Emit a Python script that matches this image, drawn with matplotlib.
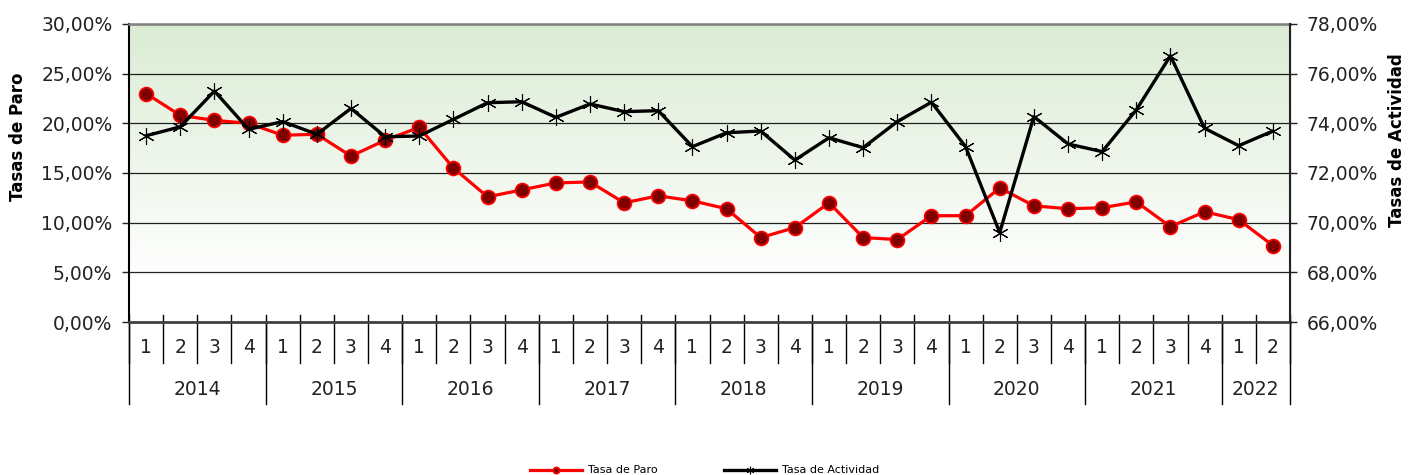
import numpy as np
import matplotlib.pyplot as plt
import matplotlib.transforms as mtransforms
from matplotlib.colors import LinearSegmentedColormap
from matplotlib.ticker import FuncFormatter

# datos (2014T1 - 2022T2)
years = ["2014", "2015", "2016", "2017", "2018", "2019", "2020", "2021", "2022"]
quarters_per_year = [4, 4, 4, 4, 4, 4, 4, 4, 2]
quarter_labels = ["1", "2", "3", "4"]

tasa_paro = [23.0, 20.8, 20.3, 20.0, 18.8, 18.9, 16.7, 18.3,
             19.6, 15.5, 12.6, 13.3, 14.0, 14.1, 12.0, 12.7,
             12.2, 11.4, 8.5, 9.5, 12.0, 8.5, 8.3, 10.7,
             10.7, 13.5, 11.7, 11.4, 11.5, 12.1, 9.6, 11.1,
             10.3, 7.7]
tasa_actividad = [73.5, 73.86, 75.3, 73.76, 74.07, 73.56, 74.6, 73.46,
                  73.49, 74.16, 74.83, 74.87, 74.24, 74.78, 74.47, 74.51,
                  73.06, 73.62, 73.69, 72.52, 73.42, 73.02, 74.07, 74.85,
                  73.06, 69.6, 74.27, 73.17, 72.86, 74.54, 76.72, 73.8,
                  73.1, 73.69]


def pct(v, pos):
    return ("%.2f%%" % v).replace(".", ",")


plt.rcParams["font.family"] = ["DejaVu Sans"]

fig = plt.figure(figsize=(14.09, 4.75), dpi=100)
ax = fig.add_axes([0.0916, 0.3221, 0.8239, 0.6274])
ax2 = ax.twinx()

n = len(tasa_paro)
x = np.arange(n)

# fondo degradado verde -> blanco
cmap = LinearSegmentedColormap.from_list(
    "fondo", [(0, "#ffffff"), (0.15, "#ffffff"), (1, "#dbecd4")])
grad = np.linspace(1, 0, 256).reshape(-1, 1)
ax.imshow(grad, cmap=cmap, extent=[0, 1, 0, 1], transform=ax.transAxes,
          aspect="auto", zorder=0, vmin=0, vmax=1, origin="upper")

ax.plot(x, tasa_paro, color="red", lw=2.3, marker="o", ms=10,
        mfc="#800000", mec="red", mew=1.2, label="Tasa de Paro", zorder=3)
ax2.plot(x, tasa_actividad, color="black", lw=2.4, marker=(6, 2, 0), ms=12,
         mew=0.8, label="Tasa de Actividad", zorder=3)

ax.set_xlim(-0.5, n - 0.5)
ax.set_ylim(0, 30)
ax2.set_ylim(66, 78)
ax.set_yticks(np.arange(0, 30.1, 5))
ax2.set_yticks(np.arange(66, 78.1, 2))
ax.yaxis.set_major_formatter(FuncFormatter(pct))
ax2.yaxis.set_major_formatter(FuncFormatter(pct))
ax.set_xticks([])

ax.grid(axis="y", color="#202020", lw=0.9, zorder=1)
ax.set_axisbelow(True)
ax.tick_params(axis="y", labelsize=13.5, length=5, width=1, colors="#222222", pad=7)
ax2.tick_params(axis="y", labelsize=13.5, length=5, width=1, colors="#222222", pad=7)

ax.spines["top"].set_color("#808080")
ax.spines["top"].set_linewidth(1.8)
ax2.spines["top"].set_visible(False)
ax.spines["bottom"].set_color("#404040")
ax.spines["bottom"].set_linewidth(2)
ax2.spines["bottom"].set_visible(False)
ax.spines["left"].set_linewidth(1.5)
ax2.spines["left"].set_visible(False)
ax2.spines["right"].set_linewidth(1.5)
ax2.spines["right"].set_color("#222222")

ax.set_ylabel("Tasas de Paro", fontsize=12, fontweight="bold")
ax2.set_ylabel("Tasas de Actividad", fontsize=12, fontweight="bold")
ax.yaxis.set_label_coords(-0.0875, 0.62)
ax2.yaxis.set_label_coords(1.0845, 0.61)

# eje de categorias en dos niveles
trans = mtransforms.blended_transform_factory(ax.transData, ax.transAxes)
row1 = -0.138
row2 = -0.275
line_kw = dict(color="black", lw=1, transform=trans, clip_on=False)
for i in range(n + 1):
    xb = i - 0.5
    ax.plot([xb, xb], [0.023, row1], **line_kw)

start = 0
for yr, nq in zip(years, quarters_per_year):
    for q in range(nq):
        ax.text(start + q, -0.087, quarter_labels[q], transform=trans,
                ha="center", va="center", fontsize=13.5, color="#222222")
    ax.text(start + (nq - 1) / 2, -0.225, yr, transform=trans,
            ha="center", va="center", fontsize=13.5, color="#222222")
    ax.plot([start - 0.5, start - 0.5], [0, row2], **line_kw)
    start += nq
ax.plot([start - 0.5, start - 0.5], [0, row2], **line_kw)

h1, l1 = ax.get_legend_handles_labels()
h2, l2 = ax2.get_legend_handles_labels()
leg = fig.legend(h1 + h2, l1 + l2, loc="lower center", ncol=2, frameon=False,
                 bbox_to_anchor=(0.5, -0.022), fontsize=8, handlelength=4.7,
                 handletextpad=0.5, markerscale=0.45, columnspacing=6)

fig.savefig("out.png", dpi=100)
